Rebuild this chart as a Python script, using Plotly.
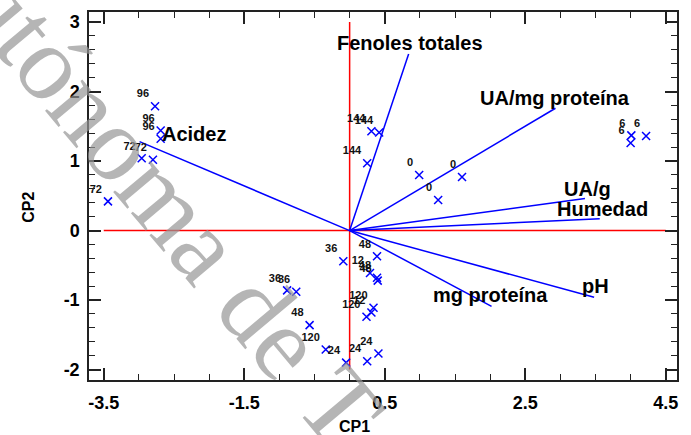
import plotly.graph_objects as go

# ---------------- data ----------------
# sample scores (CP1, CP2) with time labels (h)
pt_labels = ["0", "0", "0",
             "6", "6", "6",
             "12", "12",
             "24", "24", "24",
             "36", "36", "36",
             "48", "48", "48", "48",
             "72", "72", "72",
             "96", "96", "96",
             "120", "120", "120",
             "144", "144", "144"]
pt_x = [0.99, 1.60, 1.26,
        4.01, 4.00, 4.22,
        0.29, 0.31,
        -0.05, 0.25, 0.41,
        -0.09, -0.89, -0.76,
        0.39, 0.39, 0.40, -0.57,
        -2.96, -2.80, -3.44,
        -2.77, -2.69, -2.69,
        -0.34, 0.24, 0.34,
        0.31, 0.42, 0.25]
pt_y = [0.80, 0.77, 0.44,
        1.37, 1.26, 1.36,
        -0.61, -1.18,
        -1.90, -1.88, -1.77,
        -0.44, -0.86, -0.88,
        -0.37, -0.68, -0.72, -1.36,
        1.04, 1.02, 0.42,
        1.79, 1.44, 1.32,
        -1.71, -1.24, -1.11,
        1.43, 1.41, 0.97]

# variable loadings (vector end points)
var_names = ["Acidez", "Fenoles totales", "UA/mg proteína", "UA/g",
             "Humedad", "pH", "mg proteína"]
var_x = [-2.99, 0.84, 2.93, 3.35, 3.56, 3.48, 2.02]
var_y = [1.28, 2.54, 1.76, 0.46, 0.17, -0.96, -1.09]

x_tickvals = [-3.5, -1.5, 0.5, 2.5, 4.5]
x_ticktext = ["-3.5", "-1.5", "0.5", "2.5", "4.5"]
y_tickvals = [-2, -1, 0, 1, 2, 3]
y_ticktext = ["-2", "-1", "0", "1", "2", "3"]

x_span = [-3.5, 4.5]
y_span = [-2, 3]

# ---------------- styling ----------------
# label pixel offsets for vector names (xshift, yshift)
var_shift = {"Acidez": (54, 8), "Fenoles totales": (1, 11),
             "UA/mg proteína": (0, 10), "UA/g": (3, 10),
             "Humedad": (3, 10), "pH": (1, 11), "mg proteína": (-1, 11)}

FONT = "Liberation Sans, Arial, sans-serif"

fig = go.Figure()

# watermark
fig.add_annotation(x=-2.88, y=0.76, xref="x", yref="y",
                   text="Autónoma de T", showarrow=False, textangle=50,
                   font=dict(family="Liberation Serif, Times New Roman, serif",
                             size=106, color="rgba(150,150,150,0.7)"))

# reference axes (red)
fig.add_trace(go.Scatter(x=x_span, y=[0, 0], mode="lines",
                         line=dict(color="red", width=1.5),
                         hoverinfo="skip", showlegend=False))
fig.add_trace(go.Scatter(x=[0, 0], y=y_span, mode="lines",
                         line=dict(color="red", width=1.5),
                         hoverinfo="skip", showlegend=False))

# vectors
for name, vx, vy in zip(var_names, var_x, var_y):
    fig.add_trace(go.Scatter(x=[0, vx], y=[0, vy], mode="lines",
                             line=dict(color="blue", width=1.5),
                             hoverinfo="skip", showlegend=False))
    sx, sy = var_shift[name]
    fig.add_annotation(x=vx, y=vy, xref="x", yref="y", text="<b>%s</b>" % name,
                       showarrow=False, xshift=sx, yshift=sy,
                       font=dict(family=FONT, size=20, color="black"))

# sample points
fig.add_trace(go.Scatter(x=pt_x, y=pt_y, mode="markers+text",
                         text=["<b>%s</b>" % t for t in pt_labels],
                         textposition="top left",
                         textfont=dict(family=FONT, size=11, color="#111111"),
                         marker=dict(symbol="x-thin", size=8,
                                     line=dict(color="blue", width=1.5),
                                     color="blue"),
                         showlegend=False))

# axis titles
fig.add_annotation(x=0.452, y=0, xref="paper", yref="paper", yshift=-46,
                   yanchor="middle",
                   text="<b>CP1</b>", showarrow=False,
                   font=dict(family=FONT, size=16, color="black"))
fig.add_annotation(x=0, y=0.468, xref="paper", yref="paper", xshift=-60,
                   xanchor="center",
                   text="<b>CP2</b>", showarrow=False, textangle=-90,
                   font=dict(family=FONT, size=16, color="black"))

axis_common = dict(showgrid=False, zeroline=False, showline=True,
                   linecolor="#222222", linewidth=1.5, mirror="allticks",
                   ticks="inside", ticklen=12, tickwidth=1.5, tickcolor="#222222",
                   tickfont=dict(family=FONT, size=18, color="black"))

fig.update_xaxes(range=[-3.71, 4.66], tickvals=x_tickvals, ticktext=[
    "<b>%s</b>" % t for t in x_ticktext], ticklabelstandoff=6,
    minor=dict(ticks="inside", ticklen=6, dtick=0.5, tick0=-3.5,
               tickcolor="#222222", tickwidth=1.2),
    **axis_common)
fig.update_yaxes(range=[-2.15, 3.145], tickvals=y_tickvals, ticktext=[
    "<b>%s</b>" % t for t in y_ticktext], ticklabelstandoff=4,
    minor=dict(ticks="inside", ticklen=6, dtick=0.2, tick0=0,
               tickcolor="#222222", tickwidth=1.2),
    **axis_common)

fig.update_layout(width=691, height=435,
                  margin=dict(l=89, r=14, t=10, b=55),
                  paper_bgcolor="white", plot_bgcolor="white",
                  showlegend=False)

fig.write_html("out.html")
